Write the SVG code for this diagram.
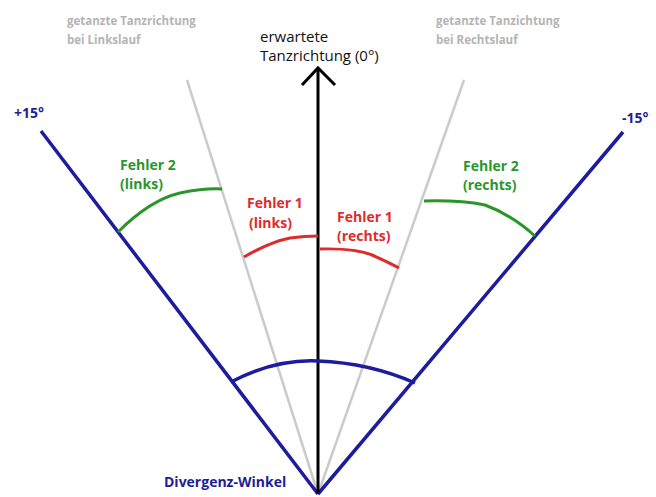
<svg xmlns="http://www.w3.org/2000/svg" width="656" height="497" viewBox="0 0 656 497">
<style>
text{font-family:"Open Sans","Noto Sans","Liberation Sans",sans-serif;font-size:14px;font-weight:bold}
.gl{fill:#b4b4b4;font-size:11.5px}
.bk{fill:#111;font-weight:normal;font-size:15px}
.bl{fill:#1e1e96}
.gr{fill:#2a962a}
.rd{fill:#de2b2b}
.gray{stroke:#cbcbcb;stroke-width:2.5;fill:none}
.blue{stroke:#1c1c9c;stroke-width:3.5;fill:none}
.garc{stroke:#2a962a;stroke-width:3;fill:none}
.rarc{stroke:#de2b2b;stroke-width:3;fill:none}
</style>
<rect width="656" height="497" fill="#fff"/>
<g id="connectors">
<line class="gray" x1="187" y1="80" x2="318" y2="494"/>
<line class="gray" x1="464" y1="80" x2="318" y2="494"/>
<line class="blue" x1="41" y1="131" x2="318" y2="494"/>
<line class="blue" x1="623" y1="132" x2="318" y2="494"/>
<line stroke="#000" stroke-width="3" x1="318" y1="494" x2="318" y2="69"/>
<polyline points="302,85 318,68 335,85" fill="none" stroke="#000" stroke-width="3"/>
<path class="blue" d="M231,382 Q275,359 318,361 Q370,363 415,383" stroke-width="3"/>
<path class="garc" d="M118,232 Q150,200 180,193 Q205,188 222,189"/>
<path class="rarc" d="M244,257 Q270,242 290,238 Q305,236 318,236"/>
<path class="rarc" d="M320,249 Q355,248 372,255 Q388,262 399,268"/>
<path class="garc" d="M424,201 Q460,200 485,205 Q512,215 535,236"/>
</g>
<g id="label-links"><text class="gl" x="67" y="25">getanzte Tanzrichtung</text><text class="gl" x="67" y="44">bei Linkslauf</text></g>
<g id="label-erwartet"><text class="bk" x="260" y="42">erwartete</text><text class="bk" x="260" y="61">Tanzrichtung (0°)</text></g>
<g id="label-rechts"><text class="gl" x="436" y="25">getanzte Tanzichtung</text><text class="gl" x="436" y="44">bei Rechtslauf</text></g>
<g id="plus15"><text class="bl" x="14" y="118">+15°</text></g>
<g id="minus15"><text class="bl" x="622" y="123">-15°</text></g>
<g id="fehler2-links"><text class="gr" x="120" y="170">Fehler 2</text><text class="gr" x="120" y="189">(links)</text></g>
<g id="fehler1-links"><text class="rd" x="247" y="208">Fehler 1</text><text class="rd" x="249" y="228">(links)</text></g>
<g id="fehler1-rechts"><text class="rd" x="337" y="222">Fehler 1</text><text class="rd" x="337" y="241">(rechts)</text></g>
<g id="fehler2-rechts"><text class="gr" x="463" y="171">Fehler 2</text><text class="gr" x="463" y="190">(rechts)</text></g>
<g id="divergenz"><text class="bl" x="164" y="487">Divergenz-Winkel</text></g>
</svg>
